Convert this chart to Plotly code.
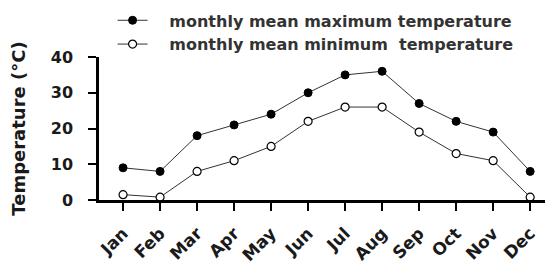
import plotly.graph_objects as go

months = ["Jan", "Feb", "Mar", "Apr", "May", "Jun", "Jul", "Aug", "Sep", "Oct", "Nov", "Dec"]
max_temp = [9, 8, 18, 21, 24, 30, 35, 36, 27, 22, 19, 8]
min_temp = [1.5, 0.8, 8, 11, 15, 22, 26, 26, 19, 13, 11, 0.8]
y_ticks = [0, 10, 20, 30, 40]

NB = "\u00a0"
FONT = "DejaVu Sans"
x_idx = list(range(len(months)))

fig = go.Figure()
fig.add_trace(go.Scatter(
    x=x_idx, y=max_temp, mode="lines+markers",
    name=NB * 3 + "monthly mean maximum temperature",
    line=dict(color="#333333", width=1),
    marker=dict(symbol="circle", size=8, color="black", line=dict(color="black", width=1)),
    cliponaxis=False,
))
fig.add_trace(go.Scatter(
    x=x_idx, y=min_temp, mode="lines+markers",
    name=NB * 3 + "monthly mean minimum" + NB + " temperature",
    line=dict(color="#333333", width=1),
    marker=dict(symbol="circle", size=8, color="white", line=dict(color="black", width=1.2)),
    cliponaxis=False,
))

# page body has an 8px margin, so the figure is sized to fit the 553x267 window
fig.update_layout(
    width=545, height=259,
    margin=dict(l=91, r=1, t=49, b=67, autoexpand=False),
    paper_bgcolor="white", plot_bgcolor="white",
    font=dict(family=FONT, color="#1a1a1a"),
    showlegend=True,
    legend=dict(
        x=0.03, y=1.375, xanchor="left", yanchor="top",
        bgcolor="rgba(0,0,0,0)", borderwidth=0,
        font=dict(family=FONT, size=16, color="#333333", weight="bold"),
        tracegroupgap=0,
    ),
    xaxis=dict(
        range=[-0.65, 11.59], automargin=False,
        tickmode="array", tickvals=x_idx, ticktext=months,
        tickangle=-45,
        showline=True, linecolor="black", linewidth=2.5,
        ticks="outside", ticklen=8, tickwidth=2, tickcolor="black",
        showgrid=False, zeroline=False,
        tickfont=dict(family=FONT, size=17, color="#1a1a1a", weight="bold"),
        ticklabelstandoff=6,
    ),
    yaxis=dict(
        range=[0, 40], automargin=False,
        tickmode="array", tickvals=y_ticks,
        showline=True, linecolor="black", linewidth=2.5,
        ticks="outside", ticklen=8, tickwidth=2, tickcolor="black",
        showgrid=False, zeroline=False,
        tickfont=dict(family=FONT, size=16, color="#1a1a1a", weight="bold"),
        ticklabelstandoff=12,
        title=dict(text="Temperature (°C)", font=dict(family=FONT, size=18, color="#1a1a1a", weight="bold"), standoff=28),
    ),
)

fig.write_html("out.html")
